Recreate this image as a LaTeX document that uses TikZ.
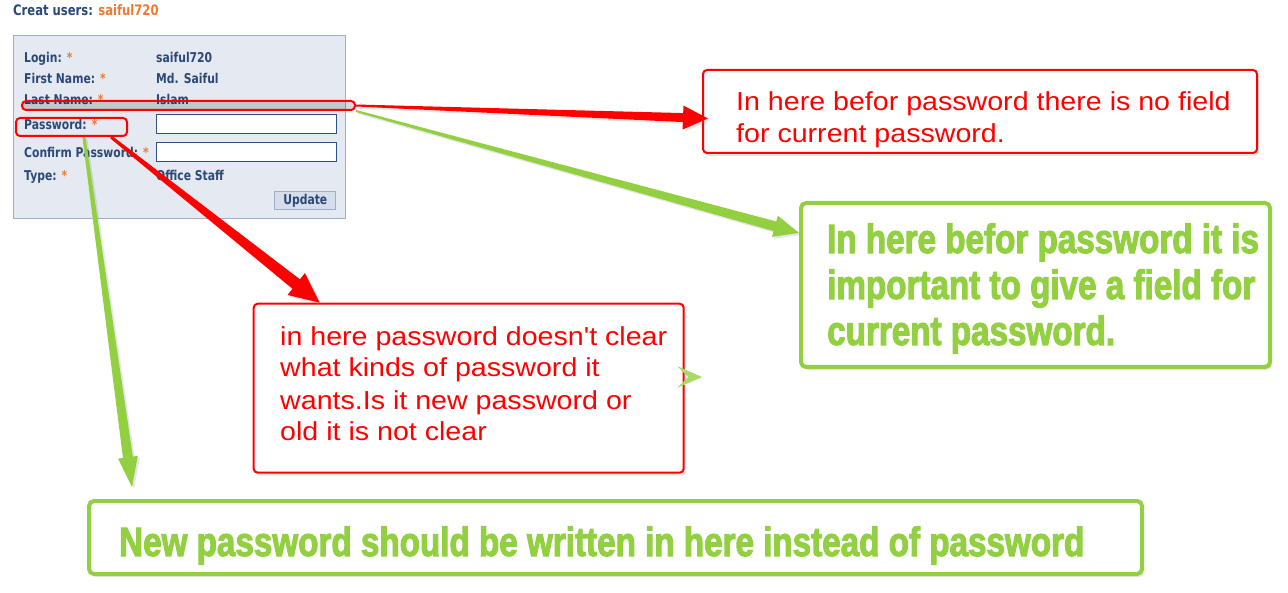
\documentclass[tikz,border=0pt]{standalone}
\usepackage{fontspec}
\setmainfont{Liberation Sans}
\newfontfamily\formfont[FakeStretch=0.8]{DejaVu Sans}
\newfontfamily\notefont[FakeStretch=1.1]{Liberation Sans}
\newfontfamily\loudfont[FakeStretch=0.81,BoldFeatures={FakeBold=2.5}]{Liberation Sans}
\usetikzlibrary{calc,shadows}

\definecolor{notered}{RGB}{255,0,0}
\definecolor{notegreen}{RGB}{146,208,66}
\definecolor{formblue}{RGB}{42,72,120}
\definecolor{formorange}{RGB}{240,120,50}
\definecolor{panelfill}{RGB}{229,233,241}
\definecolor{panelline}{RGB}{160,175,198}
\definecolor{fieldline}{RGB}{48,80,130}
\definecolor{buttonfill}{RGB}{214,222,236}

% tapered arrow: colour, from, to, start half width, shaft half width, head half width, head length
\newcommand\taperarrow[7]{%
  \coordinate (tb) at ($(#3)!#7!(#2)$);
  \fill[#1, drop shadow={opacity=0.2,shadow xshift=2pt,shadow yshift=-2pt}]
    ($(#2)!#4!90:(#3)$) -- ($(tb)!#5!90:(#3)$) -- ($(tb)!#6!90:(#3)$) -- (#3)
    -- ($(tb)!#6!-90:(#3)$) -- ($(tb)!#5!-90:(#3)$) -- ($(#2)!#4!-90:(#3)$) -- cycle;}

\tikzset{
  formlabel/.style={text=formblue, font=\formfont\bfseries\fontsize{13.5}{15}\selectfont, anchor=base west, inner sep=0pt},
  field/.style={draw=fieldline, fill=white, line width=1pt, anchor=north west, inner sep=0pt},
  highlight/.style={draw=notered, line width=2pt, rounded corners=4pt, anchor=north west, inner sep=0pt},
  redbox/.style={draw=notered, line width=2pt, rounded corners=4pt, fill=white, anchor=north west, inner sep=0pt,
    drop shadow={opacity=0.2,shadow xshift=2pt,shadow yshift=-3pt}},
  greenbox/.style={draw=notegreen, line width=4pt, rounded corners=5pt, fill=white, anchor=north west, inner sep=0pt,
    drop shadow={opacity=0.2,shadow xshift=2pt,shadow yshift=-3pt}},
  redtext/.style={text=notered, font=\notefont\fontsize{26}{32}\selectfont, align=left, anchor=base west, inner sep=0pt},
  greentext/.style={text=notegreen, font=\loudfont\bfseries\fontsize{41}{46}\selectfont, align=left, anchor=base west, inner sep=0pt}
}

\begin{document}
\begin{tikzpicture}[x=1pt,y=-1pt]
\useasboundingbox (0,0) rectangle (1288,593);

% the form
\node[formlabel, font=\formfont\bfseries\fontsize{14.5}{16}\selectfont] (title) at (13,16) {Creat users: \textcolor{formorange}{saiful720}};
\node[draw=panelline, fill=panelfill, minimum width=332, minimum height=183, anchor=north west, inner sep=0pt] (panel) at (13,35) {};
\node[formlabel] (login) at (24,62.5) {Login: \textcolor{formorange}{*}};
\node[formlabel] (fname) at (24,83.3) {First Name: \textcolor{formorange}{*}};
\node[formlabel] (lname) at (24,105) {Last Name: \textcolor{formorange}{*}};
\node[formlabel] (pass) at (24,129.3) {Password: \textcolor{formorange}{*}};
\node[formlabel] (confirm) at (24,157.3) {Confirm Password: \textcolor{formorange}{*}};
\node[formlabel] (type) at (24,181) {Type: \textcolor{formorange}{*}};
\node[formlabel] (loginval) at (156,62.5) {saiful720};
\node[formlabel] (fnameval) at (156,83.3) {Md. Saiful};
\node[formlabel] (lnameval) at (156,105) {Islam};
\node[formlabel] (typeval) at (156,181) {Office Staff};
\node[field, minimum width=180, minimum height=19] (passfield) at (156,114.3) {};
\node[field, minimum width=180, minimum height=19] (confirmfield) at (156,141.7) {};
\node[draw=panelline, fill=buttonfill, line width=1pt, minimum width=61, minimum height=18.6, anchor=north west, inner sep=0pt,
  text=formblue, font=\formfont\bfseries\fontsize{13.5}{15}\selectfont] (update) at (274.3,190.7) {Update};

% marks on the form
\node[highlight, fill=black, fill opacity=0.15, minimum width=333, minimum height=9] (strip) at (21,100) {};
\node[highlight, minimum width=111, minimum height=18] (pwring) at (15,117) {};

% notes (base = last line)
\node[redbox, minimum width=554, minimum height=83] (note1) at (702,69) {};
\node[redtext] (note1txt) at (736,143) {In here befor password there is no field\\for current password.};
\node[greenbox, minimum width=469, minimum height=164] (note2) at (799,201) {};
\node[greentext] (note2txt) at (827,345) {In here befor password it is\\important to give a field for\\current password.};
\node[redbox, minimum width=430, minimum height=169] (note3) at (252.7,302.7) {};
\node[redtext] (note3txt) at (280,441) {in here password doesn't clear\\what kinds of password it\\wants.Is it new password or\\old it is not clear};
\node[greenbox, minimum width=1053, minimum height=73] (note4) at (87,499) {};
\node[greentext] (note4txt) at (119,556) {New password should be written in here instead of password};

% arrows
\coordinate (tipA) at ($(note1.west)+(6,7)$);
\taperarrow{notered}{strip.east}{tipA}{1pt}{4.5pt}{12pt}{25pt}
\coordinate (tipB) at ($(note2.north west)!0.19!(note2.south west)$);
\taperarrow{notegreen}{strip.south east}{tipB}{1pt}{5pt}{11pt}{25pt}
\coordinate (startC) at ($(pwring.south)!0.7!(pwring.south east)$);
\coordinate (tipC) at ($(note3.north west)+(67,0)$);
\taperarrow{notered}{startC}{tipC}{1.5pt}{6pt}{14pt}{30pt}
\coordinate (startD) at ($(pwring.south)!0.22!(pwring.south east)$);
\coordinate (tipD) at ($(note4.north west)+(45,-12)$);
\taperarrow{notegreen}{startD}{tipD}{1.5pt}{5pt}{10pt}{30pt}
\fill[notegreen!80] (677,366) -- (702,377) -- (677,388) -- (688,377) -- cycle;
\end{tikzpicture}
\end{document}
